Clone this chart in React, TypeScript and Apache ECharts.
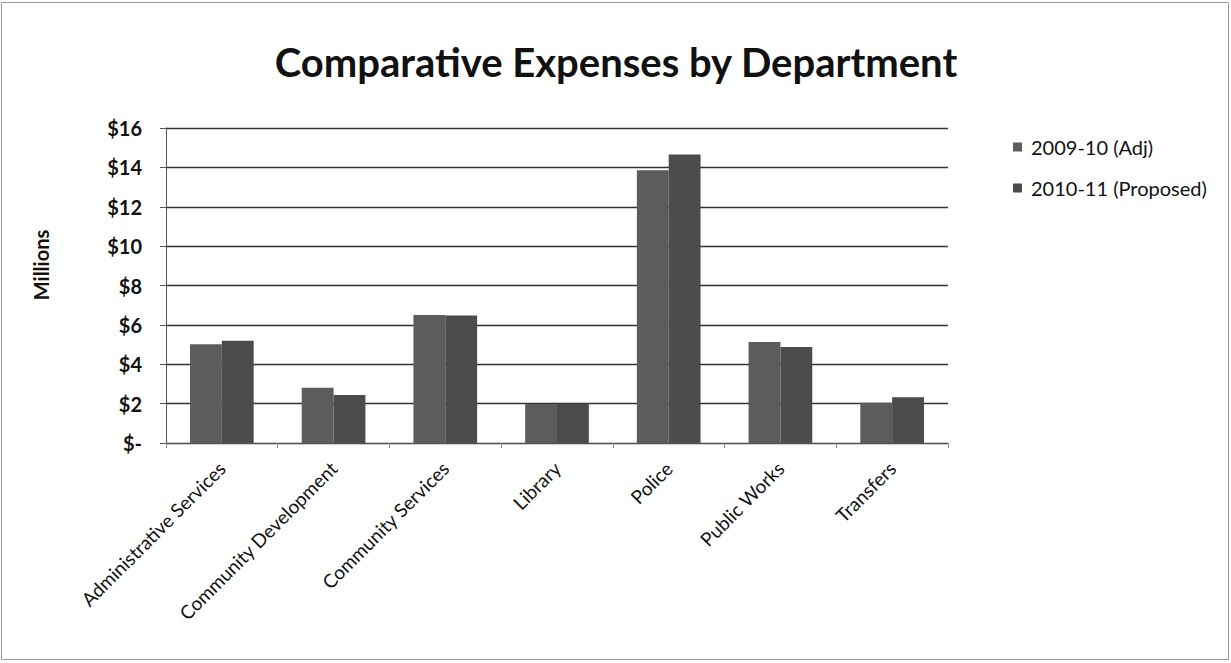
import React, { useEffect, useRef } from "react";
import * as echarts from "echarts";

const categories = [
  "Administrative Services",
  "Community Development",
  "Community Services",
  "Library",
  "Police",
  "Public Works",
  "Transfers",
];
const adj0910 = [5.02, 2.81, 6.5, 1.98, 13.85, 5.13, 2.05];
const proposed1011 = [5.19, 2.44, 6.48, 1.99, 14.65, 4.87, 2.32];
const seriesNames = ["2009-10 (Adj)", "2010-11 (Proposed)"];
const yAxisTitle = "Millions";

const FONT = "Lato, 'Open Sans', sans-serif";

export default function App() {
  const ref = useRef<HTMLDivElement>(null);
  useEffect(() => {
    if (!ref.current) return;
    const chart = echarts.init(ref.current, null, { renderer: "svg" });
    chart.setOption({
      animation: false,
      backgroundColor: "#ffffff",
      title: {
        text: "Comparative Expenses by Department",
        left: 611,
        top: 37,
        textAlign: "center",
        textStyle: { fontFamily: FONT, fontSize: 40, fontWeight: "bold", color: "#111" },
      },
      legend: {
        orient: "vertical",
        left: 1008,
        top: 132,
        itemWidth: 9,
        itemHeight: 9,
        itemGap: 21,
        icon: "rect",
        textStyle: { fontFamily: FONT, fontSize: 20, color: "#111", padding: [0, 0, 0, 4] },
        data: seriesNames,
      },
      graphic: [
        {
          type: "rect",
          shape: { x: 1.5, y: 2.5, width: 1227, height: 657 },
          style: { fill: "none", stroke: "#999", lineWidth: 1 },
          silent: true,
        },
        {
          type: "text",
          x: 41,
          y: 265,
          rotation: Math.PI / 2,
          style: {
            text: yAxisTitle,
            fontFamily: FONT,
            fontSize: 20,
            fontWeight: "bold",
            fill: "#111",
            align: "center",
            verticalAlign: "middle",
          },
        },
      ],
      grid: { left: 166, right: 283, top: 128, bottom: 220 },
      xAxis: {
        type: "category",
        data: categories,
        axisLine: { lineStyle: { color: "#555", width: 1 } },
        axisTick: { show: true, length: 5, lineStyle: { color: "#888" } },
        axisLabel: {
          rotate: 45,
          interval: 0,
          margin: 22,
          fontFamily: FONT,
          fontSize: 19,
          color: "#111",
        },
      },
      yAxis: {
        type: "value",
        min: 0,
        max: 16,
        interval: 2,
        axisLine: { show: true, lineStyle: { color: "#555", width: 1 } },
        axisTick: { show: true, length: 6, lineStyle: { color: "#555" } },
        splitLine: { show: true, lineStyle: { color: "#333", width: 1.3 } },
        axisLabel: {
          margin: 24,
          fontFamily: FONT,
          fontSize: 20,
          fontWeight: "bold",
          color: "#111",
          formatter: (v: number) => (v === 0 ? "$-" : "$" + v),
        },
      },
      series: [
        {
          name: seriesNames[0],
          type: "bar",
          data: adj0910,
          barGap: "0%",
          barCategoryGap: "43%",
          itemStyle: { color: "#5c5c5c" },
        },
        {
          name: seriesNames[1],
          type: "bar",
          data: proposed1011,
          barGap: "0%",
          barCategoryGap: "43%",
          itemStyle: { color: "#4c4c4c" },
        },
      ],
    });
    return () => chart.dispose();
  }, []);
  return (
    <div
      ref={ref}
      style={{ position: "fixed", left: 0, top: 0, width: 1231, height: 663 }}
    />
  );
}
